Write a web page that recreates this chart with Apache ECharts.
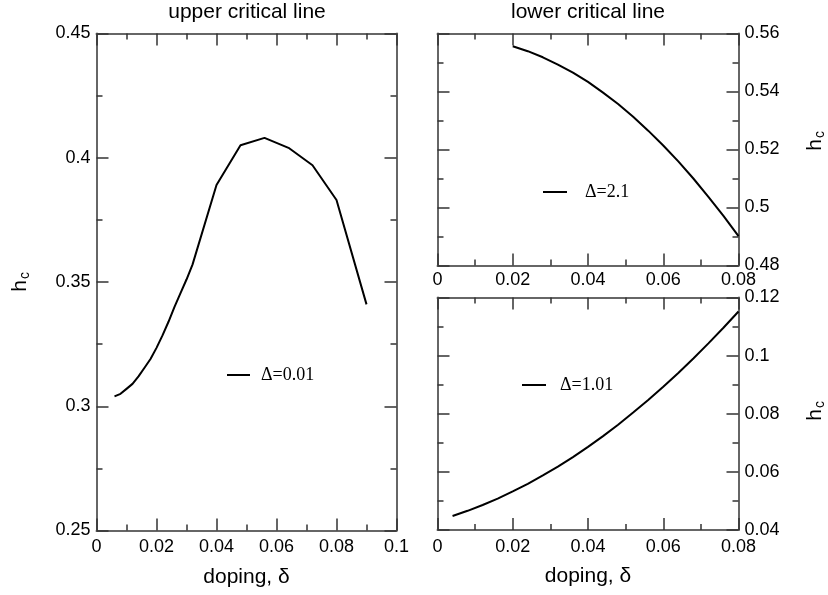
<!DOCTYPE html>
<html>
<head>
<meta charset="utf-8">
<script src="https://cdn.jsdelivr.net/npm/echarts@6/dist/echarts.min.js"></script>
<style>html,body{margin:0;padding:0;background:#fff;}#c{width:828px;height:595px;}</style>
</head>
<body>
<div id="c"></div>
<script>
// ---- data ----
const upperX = [0.006, 0.008, 0.010, 0.012, 0.014, 0.016, 0.018, 0.020, 0.022, 0.024, 0.026, 0.028, 0.030, 0.032, 0.040, 0.048, 0.056, 0.064, 0.072, 0.080, 0.090];
const upperY = [0.304, 0.305, 0.307, 0.309, 0.312, 0.3155, 0.319, 0.3235, 0.3285, 0.334, 0.340, 0.3455, 0.351, 0.357, 0.389, 0.405, 0.408, 0.404, 0.397, 0.383, 0.341];

const lowerAX = [0.020, 0.024, 0.028, 0.032, 0.036, 0.040, 0.044, 0.048, 0.052, 0.056, 0.060, 0.064, 0.068, 0.072, 0.076, 0.080];
const lowerAY = [0.5556, 0.5539, 0.5518, 0.5493, 0.5465, 0.5433, 0.5396, 0.5357, 0.5313, 0.5265, 0.5214, 0.5159, 0.5100, 0.5037, 0.4971, 0.4901];

const lowerBX = [0.004, 0.008, 0.012, 0.016, 0.020, 0.024, 0.028, 0.032, 0.036, 0.040, 0.044, 0.048, 0.052, 0.056, 0.060, 0.064, 0.068, 0.072, 0.076, 0.080];
const lowerBY = [0.0448, 0.0466, 0.0486, 0.0508, 0.0533, 0.0559, 0.0588, 0.0618, 0.0651, 0.0686, 0.0723, 0.0762, 0.0804, 0.0847, 0.0893, 0.0940, 0.0990, 0.1042, 0.1096, 0.1152];

const seriesNames = ['Δ=0.01', 'Δ=2.1', 'Δ=1.01'];
const panelTitles = ['upper critical line', 'lower critical line'];
const xName = 'doping, δ';
const yNameMain = 'h';
const yNameSub = 'c';

// axis ranges [min, max, interval]
const upperXRange = [0, 0.1, 0.02];
const upperYRange = [0.25, 0.45, 0.05];
const lowerXRange = [0, 0.08, 0.02];
const lowerAYRange = [0.48, 0.56, 0.02];
const lowerBYRange = [0.04, 0.12, 0.02];

// ---- helpers ----
const zip = (xs, ys) => xs.map((x, i) => [x, ys[i]]);
const FONT = 'Liberation Sans, Arial, Helvetica, sans-serif';
const SERIF = 'Liberation Serif, Times New Roman, serif';
const axisLineStyle = { color: '#666', width: 2 };
const tickStyle = { color: '#333', width: 1.5 };

function valAxis(range, grid, position, opts) {
  opts = opts || {};
  return Object.assign({
    type: 'value',
    gridIndex: grid,
    position: position,
    min: range[0], max: range[1], interval: range[2],
    axisLine: { show: true, onZero: false, lineStyle: axisLineStyle },
    axisTick: { show: true, inside: true, length: 12, lineStyle: tickStyle },
    minorTick: { show: true, splitNumber: 2, length: 6, lineStyle: tickStyle },
    splitLine: { show: false },
    minorSplitLine: { show: false },
    axisLabel: opts.labels ? {
      show: true, color: '#000', fontSize: 18, fontFamily: FONT,
      margin: opts.margin, showMinLabel: true, showMaxLabel: true, hideOverlap: false
    } : { show: false }
  }, opts.extra || {});
}

// rotated "h" with subscript "c" (reads bottom to top); cx, cy = centre
function hcTexts(cx, cy) {
  return [
    { type: 'text', x: cx, y: cy + 4, rotation: Math.PI / 2, silent: true,
      style: { text: yNameMain, font: '21px ' + FONT, fill: '#000', align: 'center', verticalAlign: 'middle' } },
    { type: 'text', x: cx + 5, y: cy - 6.5, rotation: Math.PI / 2, silent: true,
      style: { text: yNameSub, font: '14px ' + FONT, fill: '#000', align: 'center', verticalAlign: 'middle' } }
  ];
}

function xNameExtra() {
  return {
    name: xName, nameLocation: 'middle', nameGap: 36,
    nameTextStyle: { fontSize: 21, fontFamily: FONT, color: '#000' }
  };
}

const chart = echarts.init(document.getElementById('c'), null, { renderer: 'canvas' });
chart.setOption({
  animation: false,
  backgroundColor: '#fff',
  title: [
    { text: panelTitles[0], left: 247, top: 0, textAlign: 'center', padding: [2, 0, 0, 0],
      textStyle: { fontSize: 21, fontWeight: 'normal', fontFamily: FONT, color: '#000' } },
    { text: panelTitles[1], left: 588, top: 0, textAlign: 'center', padding: [2, 0, 0, 0],
      textStyle: { fontSize: 21, fontWeight: 'normal', fontFamily: FONT, color: '#000' } }
  ],
  grid: [
    { left: 96.5, top: 33.5, width: 300, height: 497, containLabel: false },
    { left: 437.5, top: 33.5, width: 301, height: 232, containLabel: false },
    { left: 437.5, top: 297.5, width: 301, height: 232.5, containLabel: false }
  ],
  xAxis: [
    valAxis(upperXRange, 0, 'bottom', { labels: true, margin: 8, extra: xNameExtra() }),
    valAxis(upperXRange, 0, 'top', {}),
    valAxis(lowerXRange, 1, 'bottom', { labels: true, margin: 6 }),
    valAxis(lowerXRange, 1, 'top', {}),
    valAxis(lowerXRange, 2, 'bottom', { labels: true, margin: 8, extra: xNameExtra() }),
    valAxis(lowerXRange, 2, 'top', {})
  ],
  yAxis: [
    valAxis(upperYRange, 0, 'left', { labels: true, margin: 6 }),
    valAxis(upperYRange, 0, 'right', {}),
    valAxis(lowerAYRange, 1, 'right', { labels: true, margin: 6 }),
    valAxis(lowerAYRange, 1, 'left', {}),
    valAxis(lowerBYRange, 2, 'right', { labels: true, margin: 6 }),
    valAxis(lowerBYRange, 2, 'left', {})
  ],
  graphic: [].concat(hcTexts(20, 282), hcTexts(815, 141), hcTexts(815, 411)),
  legend: [
    { data: [seriesNames[0]], left: 222, top: 361, itemWidth: 23, itemHeight: 2, icon: 'rect',
      itemStyle: { color: '#000' },
      textStyle: { fontFamily: SERIF, fontSize: 18, color: '#000', padding: [0, 0, 0, 6] } },
    { data: [seriesNames[1]], left: 538, top: 178, itemWidth: 24, itemHeight: 2, icon: 'rect',
      itemStyle: { color: '#000' },
      textStyle: { fontFamily: SERIF, fontSize: 18, color: '#000', padding: [0, 0, 0, 13] } },
    { data: [seriesNames[2]], left: 517, top: 371, itemWidth: 24, itemHeight: 2, icon: 'rect',
      itemStyle: { color: '#000' },
      textStyle: { fontFamily: SERIF, fontSize: 18, color: '#000', padding: [0, 0, 0, 9] } }
  ],
  series: [
    { name: seriesNames[0], type: 'line', xAxisIndex: 0, yAxisIndex: 0, data: zip(upperX, upperY),
      symbol: 'none', lineStyle: { color: '#000', width: 2 }, itemStyle: { color: '#000' } },
    { name: seriesNames[1], type: 'line', xAxisIndex: 2, yAxisIndex: 2, data: zip(lowerAX, lowerAY),
      symbol: 'none', lineStyle: { color: '#000', width: 2 }, itemStyle: { color: '#000' } },
    { name: seriesNames[2], type: 'line', xAxisIndex: 4, yAxisIndex: 4, data: zip(lowerBX, lowerBY),
      symbol: 'none', lineStyle: { color: '#000', width: 2 }, itemStyle: { color: '#000' } }
  ]
});
</script>
</body>
</html>
